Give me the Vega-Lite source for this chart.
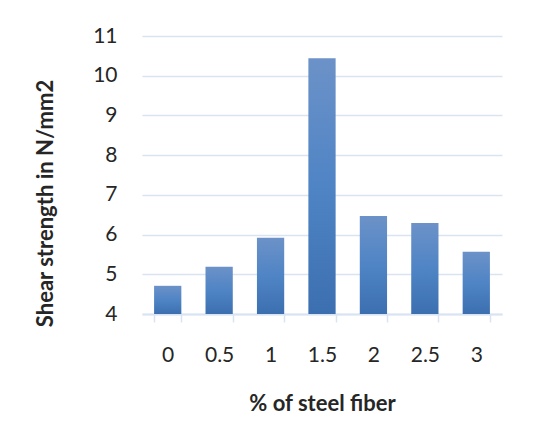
{
  "$schema": "https://vega.github.io/schema/vega-lite/v6.json",
  "width": 360,
  "height": 278,
  "autosize": "none",
  "padding": {"left": 142, "top": 36, "right": 32, "bottom": 134},
  "background": "white",
  "data": {
    "values": [
      {"fiber": "0", "strength": 4.71},
      {"fiber": "0.5", "strength": 5.19},
      {"fiber": "1", "strength": 5.92},
      {"fiber": "1.5", "strength": 10.44},
      {"fiber": "2", "strength": 6.47},
      {"fiber": "2.5", "strength": 6.29},
      {"fiber": "3", "strength": 5.57}
    ]
  },
  "mark": {
    "type": "bar",
    "color": {
      "gradient": "linear",
      "x1": 0, "y1": 0, "x2": 0, "y2": 1,
      "stops": [
        {"offset": 0, "color": "#6c92c8"},
        {"offset": 0.5, "color": "#4f84c5"},
        {"offset": 1, "color": "#3b6fb0"}
      ]
    }
  },
  "encoding": {
    "x": {
      "field": "fiber",
      "type": "ordinal",
      "sort": null,
      "scale": {"paddingInner": 0.47, "paddingOuter": 0.235},
      "axis": {
        "title": "% of steel fiber",
        "labelAngle": 0,
        "labelFont": "Lato",
        "labelFontSize": 21,
        "labelColor": "#262626",
        "labelPadding": 22,
        "tickBand": "extent",
        "tickSize": 8,
        "tickWidth": 1.5,
        "tickColor": "#d9e4f3",
        "domainColor": "#d9e4f3",
        "domainWidth": 2,
        "titleFont": "Lato",
        "titleFontSize": 22,
        "titleFontWeight": "bold",
        "titleColor": "#262626",
        "titlePadding": 28
      }
    },
    "y": {
      "field": "strength",
      "type": "quantitative",
      "scale": {"domain": [4, 11], "nice": false, "zero": false},
      "axis": {
        "title": "Shear strength in N/mm2",
        "values": [4, 5, 6, 7, 8, 9, 10, 11],
        "ticks": false,
        "domain": false,
        "grid": true,
        "gridColor": "#d9e4f3",
        "gridWidth": 1.5,
        "labelFont": "Lato",
        "labelFontSize": 21,
        "labelColor": "#262626",
        "labelPadding": 25,
        "titleFont": "Lato",
        "titleFontSize": 22,
        "titleFontWeight": "bold",
        "titleColor": "#262626",
        "titlePadding": 35,
        "titleY": 167
      }
    },
    "y2": {"datum": 4}
  },
  "config": {"view": {"stroke": null}}
}
